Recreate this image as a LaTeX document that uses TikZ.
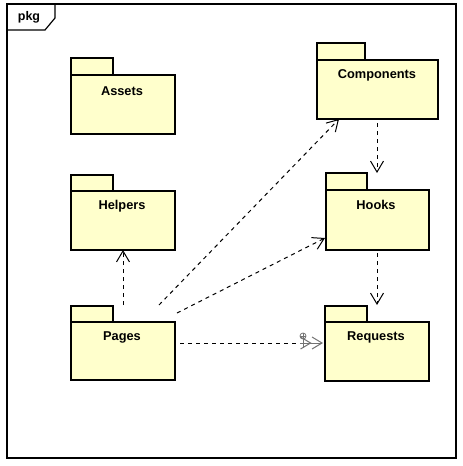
\documentclass[tikz,border=0pt]{standalone}
\usepackage{fontspec}
\setmainfont{Liberation Sans}
\usetikzlibrary{arrows.meta,calc}
\definecolor{pkgfill}{RGB}{255,255,204}
\tikzset{
  pkgbody/.style={draw=black, line width=2pt, fill=pkgfill, rectangle, inner sep=0pt, anchor=north west},
  pkgtab/.style={draw=black, line width=2pt, fill=pkgfill, rectangle, inner sep=0pt, anchor=north west},
  pkglabel/.style={font=\fontsize{12.8}{14}\selectfont\bfseries, inner sep=0pt, anchor=center},
  dep/.style={draw=black, line width=1pt, dash pattern=on 4pt off 4pt, -{Straight Barb[length=11pt,width=13pt,line width=1pt]}},
}
\begin{document}
\begin{tikzpicture}[x=1pt,y=-1pt]
\useasboundingbox (0,0) rectangle (463,466);
\fill[white] (0,0) rectangle (463,466);
% frame
\draw[line width=1.5pt] (7,4) rectangle (456,458);
\draw[line width=1.2pt] (7,30) -- (45,30) -- (55,18) -- (55,4);
\node[font=\fontsize{12.5}{14}\selectfont\bfseries, inner sep=0pt] (pkg) at (29,17) {pkg};

% packages
\node[pkgtab, minimum width=42pt, minimum height=17pt] (assetsT) at (70,57) {};
\node[pkgbody, minimum width=104pt, minimum height=59pt] (assets) at (70,74) {};
\node[pkglabel] (assetsL) at (122,91) {Assets};

\node[pkgtab, minimum width=42pt, minimum height=16pt] (helpersT) at (70,174) {};
\node[pkgbody, minimum width=104pt, minimum height=59pt] (helpers) at (70,190) {};
\node[pkglabel] (helpersL) at (122,206) {Helpers};

\node[pkgtab, minimum width=42pt, minimum height=16pt] (pagesT) at (70,305) {};
\node[pkgbody, minimum width=104pt, minimum height=58pt] (pages) at (70,321) {};
\node[pkglabel] (pagesL) at (122,337) {Pages};

\node[pkgtab, minimum width=48pt, minimum height=17pt] (componentsT) at (316,42) {};
\node[pkgbody, minimum width=121pt, minimum height=59pt] (components) at (316,59) {};
\node[pkglabel] (componentsL) at (377,75) {Components};

\node[pkgtab, minimum width=41pt, minimum height=17pt] (hooksT) at (325,172) {};
\node[pkgbody, minimum width=103pt, minimum height=60pt] (hooks) at (325,189) {};
\node[pkglabel] (hooksL) at (376,205) {Hooks};

\node[pkgtab, minimum width=42pt, minimum height=16pt] (requestsT) at (324,305) {};
\node[pkgbody, minimum width=104pt, minimum height=59pt] (requests) at (324,321) {};
\node[pkglabel] (requestsL) at (376,337) {Requests};

% connector ends
\coordinate (pH1) at (123,305);
\coordinate (hB) at (123,250);
\coordinate (pC1) at (159,305);
\coordinate (cB) at (339,119);
\coordinate (pHk1) at (177,313);
\coordinate (hkL) at (325,238);
\coordinate (pR1) at (180,343);
\coordinate (rL) at (323,343);
\coordinate (cH1) at (377,123);
\coordinate (hkT) at (377,173);
\coordinate (hkR1) at (377,253);
\coordinate (rT) at (377,305);
\coordinate (rMid) at (300,343);

\draw[dep] (pH1) -- (hB);
\draw[dep] (pC1) -- (cB);
\draw[dep] (pHk1) -- (hkL);
\draw[dep] (cH1) -- (hkT);
\draw[dep] (hkR1) -- (rT);
\draw[draw=black, line width=1pt, dash pattern=on 4pt off 4pt] (pR1) -- (rMid);
\draw[draw=black!55, line width=1pt, -{Straight Barb[length=10pt,width=12pt,line width=1pt]Straight Barb[length=10pt,width=12pt,line width=1pt]}] (rMid) -- (rL);
% circle-plus marker
\coordinate (cp) at (303,336);
\draw[black!55, line width=0.8pt] (cp) circle (3);
\draw[black!55, line width=0.8pt] ($(cp)+(-3,0)$) -- ($(cp)+(3,0)$);
\draw[black!55, line width=0.8pt] ($(cp)+(0,-3)$) -- ($(cp)+(0,12)$);
\end{tikzpicture}
\end{document}
